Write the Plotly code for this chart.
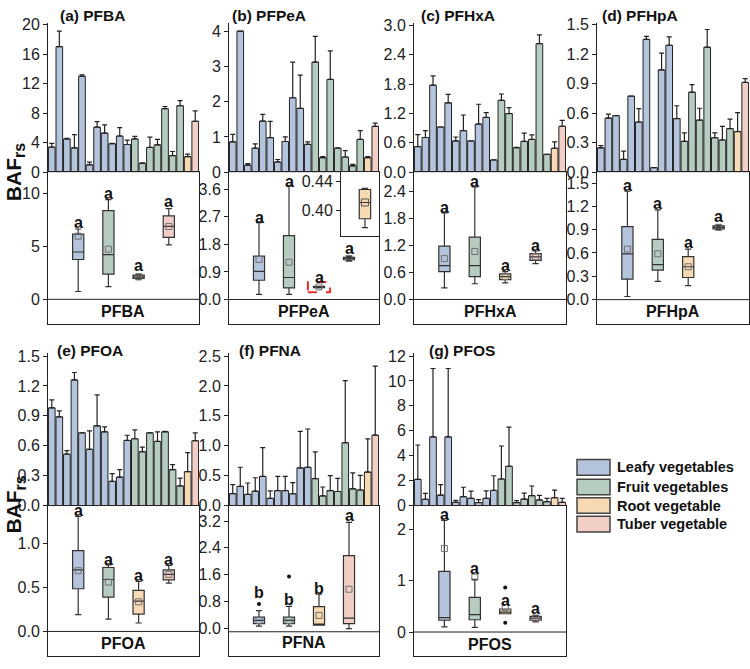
import plotly.graph_objects as go

# ---------------- data ----------------
groups = ['Leafy vegetables', 'Fruit vegetables', 'Root vegetable', 'Tuber vegetable']
group_colors = ['#B4C4DC', '#B6CCBF', '#F7D9B3', '#F2CFC6']
bar_group = [0] * 11 + [1] * 7 + [2] + [3]

compounds = ['PFBA', 'PFPeA', 'PFHxA', 'PFHpA', 'PFOA', 'PFNA', 'PFOS']
tags = ['(a)', '(b)', '(c)', '(d)', '(e)', '(f)', '(g)']

# bar means and upper SD
pfba_mean = [3.4, 17.0, 4.5, 3.3, 13.0, 1.0, 6.1, 5.3, 3.85, 4.9, 3.75, 4.5, 1.2, 3.35, 3.7, 8.6, 2.25, 9.0, 2.1, 6.9]
pfba_sd = [0.5, 2.1, 0.1, 1.8, 0.2, 0.35, 0.75, 1.1, 0.05, 1.15, 0.6, 0.35, 0.05, 1.4, 0.75, 0.3, 0.55, 0.7, 0.35, 1.4]
pfpea_mean = [0.86, 4.0, 0.2, 0.68, 1.45, 0.98, 0.29, 0.87, 2.11, 1.81, 0.79, 3.12, 0.41, 2.63, 0.68, 0.43, 0.18, 0.93, 0.41, 1.3]
pfpea_sd = [0.21, 0.0, 0.04, 0.12, 0.19, 0.46, 0.07, 0.13, 1.01, 0.94, 0.07, 0.73, 0.03, 0.81, 0.01, 0.18, 0.04, 0.25, 0.03, 0.09]
pfhxa_mean = [0.525, 0.71, 1.78, 0.925, 1.42, 0.64, 0.85, 0.64, 0.985, 1.12, 0.25, 1.47, 1.2, 0.5, 0.63, 0.67, 2.63, 0.366, 0.49, 0.94]
pfhxa_sd = [0.245, 0.14, 0.19, 0.0, 0.17, 0.08, 0.32, 0.0, 0.405, 0.1, 0.0, 0.13, 0.12, 0.01, 0.17, 0.095, 0.18, 0.0, 0.13, 0.12]
pfhpa_mean = [0.248, 0.55, 0.575, 0.13, 0.773, 0.51, 1.35, 0.046, 1.04, 1.29, 0.545, 0.314, 0.813, 0.53, 1.27, 0.35, 0.327, 0.443, 0.413, 0.912]
pfhpa_sd = [0.022, 0.04, 0.0, 0.085, 0.0, 0.135, 0.03, 0.0, 0.17, 0.085, 0.13, 0.086, 0.077, 0.12, 0.18, 0.05, 0.139, 0.097, 0.192, 0.038]
pfoa_mean = [0.98, 0.89, 0.515, 1.26, 0.73, 0.565, 0.80, 0.74, 0.243, 0.285, 0.653, 0.67, 0.54, 0.73, 0.643, 0.74, 0.36, 0.197, 0.34, 0.65]
pfoa_sd = [0.08, 0.06, 0.035, 0.075, 0.0, 0.185, 0.31, 0.05, 0.077, 0.075, 0.052, 0.09, 0.047, 0.0, 0.097, 0.005, 0.05, 0.079, 0.19, 0.08]
pfna_mean = [0.2, 0.32, 0.186, 0.24, 0.487, 0.12, 0.25, 0.25, 0.197, 0.63, 0.64, 0.45, 0.16, 0.25, 0.235, 1.05, 0.28, 0.26, 0.56, 1.176]
pfna_sd = [0.15, 0.32, 0.191, 0.225, 0.483, 0.126, 0.237, 0.237, 0.186, 0.61, 0.64, 0.447, 0.15, 0.25, 0.219, 1.04, 0.267, 0.243, 0.556, 1.154]
pfos_mean = [2.1, 0.5, 5.51, 0.84, 5.51, 0.26, 0.71, 0.58, 0.24, 0.58, 1.21, 2.13, 3.15, 0.24, 0.52, 0.79, 0.45, 0.31, 0.63, 0.26]
pfos_sd = [2.76, 0.47, 5.49, 0.84, 5.49, 0.16, 0.76, 0.57, 0.23, 0.6, 1.18, 2.65, 3.15, 0.15, 0.48, 0.78, 0.36, 0.27, 0.6, 0.32]

# box stats per group: [lower whisker, q1, median, q3, upper whisker, mean]
pfba_box = [[0.74, 3.77, 4.48, 6.17, 6.66, 5.98], [1.2, 2.39, 4.23, 8.4, 9.45, 4.75],
            [1.9, 1.98, 2.12, 2.3, 2.38, 2.12], [5.15, 5.86, 6.9, 7.91, 8.59, 6.9]]
pfpea_box = [[0.17, 0.63, 0.92, 1.42, 2.51, 1.31], [0.17, 0.38, 0.72, 2.09, 3.71, 1.22],
             [0.377, 0.389, 0.411, 0.4286, 0.43, 0.411], [1.27, 1.3, 1.34, 1.38, 1.42, 1.34]]
pfhxa_box = [[0.26, 0.62, 0.754, 1.19, 1.93, 0.91], [0.35, 0.51, 0.754, 1.39, 2.51, 1.07],
             [0.37, 0.44, 0.51, 0.57, 0.62, 0.51], [0.8, 0.87, 0.95, 1.02, 1.08, 0.95]]
pfhpa_box = [[0.04, 0.264, 0.59, 0.94, 1.395, 0.65], [0.235, 0.38, 0.45, 0.775, 1.156, 0.59],
             [0.18, 0.285, 0.423, 0.553, 0.65, 0.423], [0.9, 0.91, 0.93, 0.95, 0.96, 0.93]]
pfoa_box = [[0.19, 0.485, 0.7, 0.918, 1.307, 0.69], [0.14, 0.39, 0.59, 0.726, 0.755, 0.56],
            [0.096, 0.196, 0.344, 0.467, 0.567, 0.337], [0.548, 0.585, 0.648, 0.70, 0.75, 0.648]]
pfna_box = [[0.07, 0.146, 0.24, 0.34, 0.53, 0.24], [0.07, 0.146, 0.24, 0.34, 0.66, 0.24],
            [0.1, 0.1, 0.1, 0.65, 1.02, 0.39], [0.0, 0.146, 0.31, 2.17, 3.16, 1.17]]
pfos_box = [[0.1, 0.23, 0.28, 1.185, 2.18, 1.63], [0.09, 0.24, 0.34, 0.675, 1.03, 1.07],
            [0.357, 0.357, 0.39, 0.45, 0.45, 0.48], [0.2, 0.23, 0.27, 0.306, 0.325, 0.27]]

# outliers (group index, value)
pfna_outliers = [(0, 0.73), (1, 1.55)]
pfos_outliers = [(2, 0.87), (2, 0.18)]

# significance letters and their heights
pfba_letters = ['a', 'a', 'a', 'a']
pfba_letter_y = [7.24, 10.0, 3.16, 9.23]
pfpea_letters = ['a', 'a', 'a', 'a']
pfpea_letter_y = [2.69, 3.87, 0.72, 1.66]
pfhxa_letters = ['a', 'a', 'a', 'a']
pfhxa_letter_y = [2.05, 2.62, 0.754, 1.2]
pfhpa_letters = ['a', 'a', 'a', 'a']
pfhpa_letter_y = [1.47, 1.24, 0.737, 1.07]
pfoa_letters = ['a', 'a', 'a', 'a']
pfoa_letter_y = [1.374, 0.819, 0.633, 0.819]
pfna_letters = ['b', 'b', 'b', 'a']
pfna_letter_y = [1.07, 0.854, 1.2, 3.35]
pfos_letters = ['a', 'a', 'a', 'a']
pfos_letter_y = [2.3, 1.25, 0.61, 0.45]

# inset tick labels for PFPeA root vegetable
inset_ticks = [0.40, 0.44]

means = [pfba_mean, pfpea_mean, pfhxa_mean, pfhpa_mean, pfoa_mean, pfna_mean, pfos_mean]
sds = [pfba_sd, pfpea_sd, pfhxa_sd, pfhpa_sd, pfoa_sd, pfna_sd, pfos_sd]
boxes = [pfba_box, pfpea_box, pfhxa_box, pfhpa_box, pfoa_box, pfna_box, pfos_box]
outliers = [[], [], [], [], [], pfna_outliers, pfos_outliers]
letters = [pfba_letters, pfpea_letters, pfhxa_letters, pfhpa_letters, pfoa_letters, pfna_letters, pfos_letters]
letter_ys = [pfba_letter_y, pfpea_letter_y, pfhxa_letter_y, pfhpa_letter_y, pfoa_letter_y, pfna_letter_y, pfos_letter_y]

# ---------------- layout geometry ----------------
W, H = 750, 669
FONT = 'Liberation Sans, Arial, sans-serif'
INK = '#222222'


def fx(px):
    return px / W


def fy(py):
    return 1 - py / H


rows = [dict(bar=(17, 170), box=(170, 325), title_y=10, lab_y=170),
        dict(bar=(355, 511), box=(511, 665), title_y=352, lab_y=510)]

panels = [
    dict(x=(48, 199), row=0, tx=58, bar_max=20.26, bar_ticks=[0, 4, 8, 12, 16, 20], bar_fmt='d',
         box_rng=(-2.31, 12.04), box_ticks=[0, 5, 10], box_fmt='d', sep=0),
    dict(x=(229, 379), row=0, tx=230, bar_max=4.24, bar_ticks=[0, 1, 2, 3, 4], bar_fmt='d',
         box_rng=(-0.79, 4.16), box_ticks=[0, 0.9, 1.8, 2.7, 3.6], box_fmt='.1f', sep=0),
    dict(x=(414, 566), row=0, tx=419, bar_max=3.06, bar_ticks=[0, 0.6, 1.2, 1.8, 2.4, 3.0], bar_fmt='.1f',
         box_rng=(-0.54, 2.835), box_ticks=[0, 0.6, 1.2, 1.8, 2.4], box_fmt='.1f', sep=0),
    dict(x=(597, 749), row=0, tx=600, bar_max=1.52, bar_ticks=[0, 0.3, 0.6, 0.9, 1.2, 1.5], bar_fmt='.1f',
         box_rng=(-0.31, 1.64), box_ticks=[0, 0.3, 0.6, 0.9, 1.2, 1.5], box_fmt='.1f', sep=0),
    dict(x=(48, 199), row=1, tx=55, bar_max=1.53, bar_ticks=[0, 0.3, 0.6, 0.9, 1.2, 1.5], bar_fmt='.1f',
         box_rng=(-0.28, 1.43), box_ticks=[0, 0.5, 1.0], box_fmt='.1f', sep=0),
    dict(x=(229, 379), row=1, tx=237, bar_max=2.55, bar_ticks=[0, 0.5, 1.0, 1.5, 2.0, 2.5], bar_fmt='.1f',
         box_rng=(-0.82, 3.66), box_ticks=[0, 0.8, 1.6, 2.4, 3.2], box_fmt='.1f', sep=-0.096),
    dict(x=(414, 566), row=1, tx=427, bar_max=12.24, bar_ticks=[0, 2, 4, 6, 8, 10, 12], bar_fmt='d',
         box_rng=(-0.47, 2.47), box_ticks=[0, 1, 2], box_fmt='d', sep=0),
]

fig = go.Figure()
layout = dict(width=W, height=H, margin=dict(l=0, r=0, t=0, b=0), showlegend=False,
              paper_bgcolor='white', plot_bgcolor='white', font=dict(family=FONT, color=INK))
annotations = []
shapes = []

tickfont = dict(family=FONT, size=16, color=INK)

for i, p in enumerate(panels):
    r = rows[p['row']]
    bx, by = 2 * i + 1, 2 * i + 2
    xb, yb = f'x{bx}', f'y{bx}'
    xq, yq = f'x{by}', f'y{by}'
    dom_x = [fx(p['x'][0]), fx(p['x'][1])]

    # ---- bar panel ----
    cols = [group_colors[g] for g in bar_group]
    fig.add_trace(go.Bar(
        x=list(range(len(means[i]))), y=means[i], marker=dict(color=cols, line=dict(color=INK, width=1)),
        error_y=dict(type='data', symmetric=False, array=sds[i], arrayminus=[0] * len(sds[i]),
                     color=INK, thickness=1.2, width=2.5),
        xaxis=xb, yaxis=yb, hoverinfo='skip'))
    layout[f'xaxis{bx}'] = dict(domain=dom_x, range=[-0.5, len(means[i]) - 0.5], showline=False,
                                showticklabels=False, ticks='', showgrid=False, zeroline=False,
                                anchor=yb, fixedrange=True)
    layout[f'yaxis{bx}'] = dict(domain=[fy(r['bar'][1]), fy(r['bar'][0])], range=[0, p['bar_max']],
                                showline=True, linecolor=INK, linewidth=1, ticks='outside', ticklen=4,
                                tickcolor=INK, tickvals=p['bar_ticks'], tickformat=p['bar_fmt'],
                                tickfont=tickfont, showgrid=False, zeroline=False, anchor=xb)

    # ---- box panel ----
    for g, st in enumerate(boxes[i]):
        lo, q1, med, q3, hi, mn = st
        fig.add_trace(go.Box(
            x=[g + 1], lowerfence=[lo], q1=[q1], median=[med], q3=[q3], upperfence=[hi],
            width=0.37, fillcolor=group_colors[g], line=dict(color='#333333', width=1.2),
            whiskerwidth=0.55, boxpoints=False, xaxis=xq, yaxis=yq, hoverinfo='skip'))
        fig.add_trace(go.Scatter(
            x=[g + 1], y=[mn], mode='markers',
            marker=dict(symbol='square-open', size=6, color='#707070', line=dict(width=1)),
            xaxis=xq, yaxis=yq, hoverinfo='skip'))
        annotations.append(dict(x=g + 1, y=letter_ys[i][g], xref=xq, yref=yq, text=letters[i][g],
                                showarrow=False, xanchor='center', yanchor='middle',
                                font=dict(family=FONT, size=16, color='#111111', weight='bold')))
    if outliers[i]:
        fig.add_trace(go.Scatter(
            x=[o[0] + 1 for o in outliers[i]], y=[o[1] for o in outliers[i]], mode='markers',
            marker=dict(symbol='circle', size=4, color='#111111'), xaxis=xq, yaxis=yq, hoverinfo='skip'))

    layout[f'xaxis{by}'] = dict(domain=dom_x, range=[0, 5], showline=True, mirror=True, linecolor=INK,
                                linewidth=1, showticklabels=False, ticks='', showgrid=False,
                                zeroline=False, anchor=yq)
    layout[f'yaxis{by}'] = dict(domain=[fy(r['box'][1]), fy(r['box'][0])], range=list(p['box_rng']),
                                showline=True, mirror=True, linecolor=INK, linewidth=1, ticks='outside',
                                ticklen=4, tickcolor=INK, tickvals=p['box_ticks'], tickformat=p['box_fmt'],
                                tickfont=tickfont, showgrid=False, zeroline=False, anchor=xq)
    # separator above the compound label
    shapes.append(dict(type='line', xref=f'{xq} domain', yref=yq, x0=0, x1=1, y0=p['sep'], y1=p['sep'],
                       line=dict(color=INK, width=1)))
    lab_py = (r['box'][1] + (r['box'][1] - (r['box'][1] - r['box'][0]) * (0 - p['box_rng'][0]) /
                             (p['box_rng'][1] - p['box_rng'][0]))) / 2
    annotations.append(dict(x=(dom_x[0] + dom_x[1]) / 2, y=fy(lab_py), xref='paper', yref='paper',
                            text=compounds[i], showarrow=False, xanchor='center', yanchor='middle',
                            font=dict(family=FONT, size=16, color='#111111', weight='bold')))
    # panel title
    annotations.append(dict(x=fx(p['tx']), y=fy(r['title_y']), xref='paper', yref='paper',
                            text=f'{tags[i]} {compounds[i]}', showarrow=False, xanchor='left',
                            yanchor='middle', font=dict(family=FONT, size=15.5, color='#111111',
                                                        weight='bold')))

# y-axis titles
for r in rows:
    annotations.append(dict(x=fx(15), y=fy(r['lab_y']), xref='paper', yref='paper',
                            text='BAF<sub><span style="font-size:16px">rs</span></sub>',
                            textangle=-90, showarrow=False, xanchor='center', yanchor='middle',
                            font=dict(family=FONT, size=21, color='#111111', weight='bold')))

# inset for PFPeA root vegetable
lo, q1, med, q3, hi, mn = pfpea_box[2]
fig.add_trace(go.Box(x=[0.63], lowerfence=[lo], q1=[q1], median=[med], q3=[q3], upperfence=[hi],
                     width=0.3, fillcolor=group_colors[2], line=dict(color='#333333', width=1.2),
                     whiskerwidth=0.55, boxpoints=False, xaxis='x15', yaxis='y15', hoverinfo='skip'))
fig.add_trace(go.Scatter(x=[0.63], y=[mn], mode='markers',
                         marker=dict(symbol='square-open', size=7, color='#555555', line=dict(width=1)),
                         xaxis='x15', yaxis='y15', hoverinfo='skip'))
layout['xaxis15'] = dict(domain=[fx(341), fx(379)], range=[0, 1], showline=True, mirror=True, linecolor=INK,
                         linewidth=1, showticklabels=False, ticks='', showgrid=False, zeroline=False,
                         anchor='y15')
layout['yaxis15'] = dict(domain=[fy(235), fy(170)], range=[0.366, 0.452], showline=True, mirror=True,
                         linecolor=INK, linewidth=1, ticks='outside', ticklen=4, tickcolor=INK,
                         tickvals=inset_ticks, tickformat='.2f', tickfont=tickfont, showgrid=False,
                         zeroline=False, anchor='x15')

# red dashed bracket around the tiny root-vegetable box in PFPeA
shapes.append(dict(type='rect', xref='x4', yref='y4', x0=2.63, x1=3.37, y0=0.24, y1=0.57,
                   line=dict(color='#E8302A', width=2, dash='dash')))

# legend
leg_y = [472, 492, 511, 530]
for g, name in enumerate(groups):
    shapes.append(dict(type='rect', xref='paper', yref='paper', x0=fx(577), x1=fx(610),
                       y0=fy(leg_y[g] + 8), y1=fy(leg_y[g] - 8), fillcolor=group_colors[g],
                       line=dict(color='#444444', width=1.5)))
    annotations.append(dict(x=fx(615), y=fy(leg_y[g]), xref='paper', yref='paper', text=name,
                            showarrow=False, xanchor='left', yanchor='middle',
                            font=dict(family=FONT, size=14.5, color='#111111', weight='bold')))

layout['annotations'] = annotations
layout['shapes'] = shapes
layout['bargap'] = 0.12
fig.update_layout(**layout)
fig.write_html('out.html')
